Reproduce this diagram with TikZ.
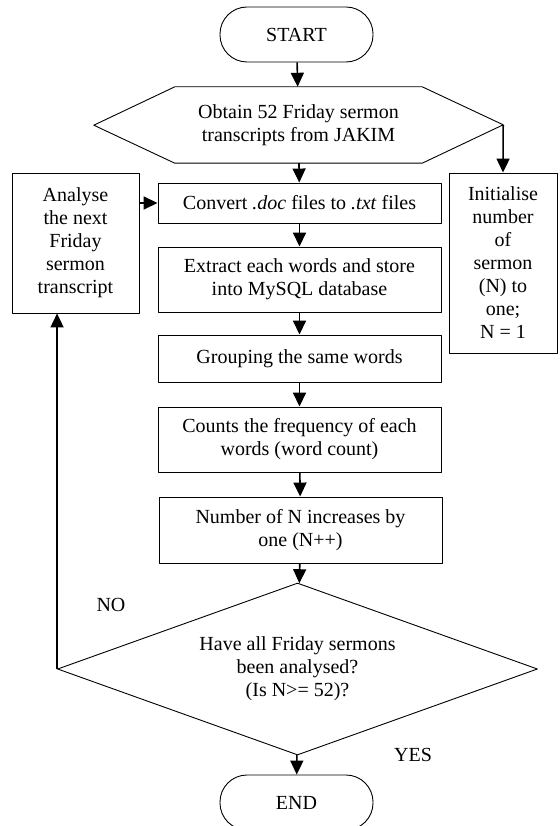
\documentclass[tikz,border=0pt]{standalone}
\usepackage{fontspec}
\setmainfont{Liberation Serif}
\usetikzlibrary{arrows.meta,shapes.geometric}
\begin{document}
\begin{tikzpicture}[line cap=round,line join=round,x=1pt,y=-1pt,
		every node/.style={font=\fontsize{20}{23}\selectfont,align=center,inner sep=0pt},
		procbox/.style={draw,line width=0.9pt,rectangle,minimum width=283pt},
		termbox/.style={draw,line width=0.9pt,rectangle,rounded corners=27pt,minimum width=153pt,minimum height=55pt},
		decbox/.style={draw,line width=0.9pt,diamond,aspect=2.79,minimum width=480pt,minimum height=172pt},
		flow/.style={line width=1.6pt,line cap=butt,-{Triangle[length=14pt,width=13pt]}}]
		\useasboundingbox (0,0) rectangle (559,826);
		% main column
		\node[termbox] (start) at (296.5,34.5) {START};
		\node[minimum width=247pt,minimum height=76pt] (obtain) at (298.5,125) {Obtain 52 Friday sermon\\transcripts from JAKIM};
		\draw[line width=0.9pt] (obtain.north west) -- (obtain.north east) -- ++(81,38) coordinate (obtainR)
			-- (obtain.south east) -- (obtain.south west) -- ++(-81,-38) coordinate (obtainL) -- cycle;
		\node[procbox,minimum height=40pt] (convert) at (299.5,203) {Convert \textit{.doc} files to \textit{.txt} files};
		\node[procbox,minimum height=65pt] (extract) at (299.5,279.5) {Extract each words and store\\into MySQL database};
		\node[procbox,minimum height=47pt] (group) at (299.5,358.5) {Grouping the same words};
		\node[procbox,minimum height=65pt] (counts) at (299.5,439.5) {Counts the frequency of each\\words (word count)};
		\node[procbox,minimum height=66pt] (incr) at (300.5,530) {Number of N increases by\\one (N++)};
		\node[decbox] (check) at (297.5,669) {Have all Friday sermons\\been analysed?\\(Is N>= 52)?};
		\node[termbox] (end) at (296.5,802.5) {END};
		% side boxes
		\node[draw,line width=0.9pt,minimum width=127pt,minimum height=140pt] (analyse) at (75.5,243) {Analyse\\the next\\Friday\\sermon\\transcript};
		\node[draw,line width=0.9pt,minimum width=108pt,minimum height=180pt] (init) at (503,263) {Initialise\\number\\of\\sermon\\(N) to\\one;\\N = 1};
		% labels
		\node (no) at (111,605) {NO};
		\node (yes) at (413,755) {YES};
		% connectors
		\draw[flow] (start) -- (obtain);
		\draw[flow] (obtain) -- (convert);
		\draw[flow] (obtainR) -- (init.north);
		\draw[flow] (analyse.east |- convert.west) -- (convert.west);
		\draw[flow] (convert) -- (extract);
		\draw[flow] (extract) -- (group);
		\draw[flow] (group) -- (counts);
		\draw[flow] (counts) -- (incr);
		\draw[flow] (incr) -- (check);
		\draw[flow] (check.west) -- (check.west |- analyse.south);
		\draw[flow] (check) -- (end);
\end{tikzpicture}
\end{document}
